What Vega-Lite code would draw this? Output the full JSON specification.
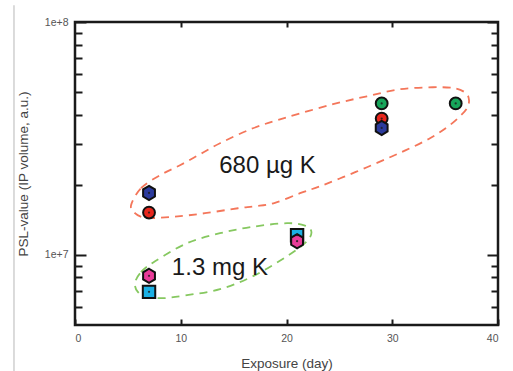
{
  "$schema": "https://vega.github.io/schema/vega-lite/v6.json",
  "autosize": "none",
  "width": 423,
  "height": 303,
  "padding": {"left": 75, "top": 22, "right": 15, "bottom": 46},
  "config": {
    "font": "Liberation Sans",
    "view": {"stroke": "#1a1a1a", "strokeWidth": 2.5}
  },
  "datasets": {
    "pts": [
      {"series": "cyan", "day": 7, "psl": 6940000},
      {"series": "cyan", "day": 21, "psl": 12150000},
      {"series": "red", "day": 7, "psl": 15200000},
      {"series": "red", "day": 29, "psl": 38500000},
      {"series": "green", "day": 29, "psl": 44700000},
      {"series": "green", "day": 36, "psl": 44700000},
      {"series": "pink", "day": 7, "psl": 8130000},
      {"series": "pink", "day": 21, "psl": 11450000},
      {"series": "blue", "day": 7, "psl": 18450000},
      {"series": "blue", "day": 29, "psl": 35100000}
    ],
    "ell": [
      {"g": "680", "i": 1, "x": 5.30, "y": 16340000},
      {"g": "680", "i": 2, "x": 6.24, "y": 19330000},
      {"g": "680", "i": 3, "x": 8.04, "y": 21980000},
      {"g": "680", "i": 4, "x": 9.93, "y": 24270000},
      {"g": "680", "i": 5, "x": 11.82, "y": 27050000},
      {"g": "680", "i": 6, "x": 13.71, "y": 30160000},
      {"g": "680", "i": 7, "x": 16.83, "y": 34980000},
      {"g": "680", "i": 8, "x": 20.05, "y": 38990000},
      {"g": "680", "i": 9, "x": 24.40, "y": 44360000},
      {"g": "680", "i": 10, "x": 27.61, "y": 47990000},
      {"g": "680", "i": 11, "x": 30.73, "y": 51430000},
      {"g": "680", "i": 12, "x": 33.85, "y": 52450000},
      {"g": "680", "i": 13, "x": 35.93, "y": 51940000},
      {"g": "680", "i": 14, "x": 36.97, "y": 49430000},
      {"g": "680", "i": 15, "x": 37.26, "y": 46130000},
      {"g": "680", "i": 16, "x": 37.07, "y": 42620000},
      {"g": "680", "i": 17, "x": 36.41, "y": 39380000},
      {"g": "680", "i": 18, "x": 35.18, "y": 35330000},
      {"g": "680", "i": 19, "x": 33.57, "y": 31690000},
      {"g": "680", "i": 20, "x": 31.68, "y": 28700000},
      {"g": "680", "i": 21, "x": 29.79, "y": 26260000},
      {"g": "680", "i": 22, "x": 27.61, "y": 23790000},
      {"g": "680", "i": 23, "x": 25.34, "y": 21560000},
      {"g": "680", "i": 24, "x": 23.17, "y": 19710000},
      {"g": "680", "i": 25, "x": 21.28, "y": 18400000},
      {"g": "680", "i": 26, "x": 18.91, "y": 16730000},
      {"g": "680", "i": 27, "x": 17.02, "y": 16180000},
      {"g": "680", "i": 28, "x": 15.41, "y": 15860000},
      {"g": "680", "i": 29, "x": 12.29, "y": 15100000},
      {"g": "680", "i": 30, "x": 9.46, "y": 14590000},
      {"g": "680", "i": 31, "x": 7.09, "y": 14380000},
      {"g": "680", "i": 32, "x": 6.34, "y": 14520000},
      {"g": "680", "i": 33, "x": 5.67, "y": 15100000},
      {"g": "1.3", "i": 1, "x": 5.67, "y": 7557000},
      {"g": "1.3", "i": 2, "x": 6.24, "y": 8430000},
      {"g": "1.3", "i": 3, "x": 7.57, "y": 9397000},
      {"g": "1.3", "i": 4, "x": 10.59, "y": 11220000},
      {"g": "1.3", "i": 5, "x": 13.71, "y": 12390000},
      {"g": "1.3", "i": 6, "x": 16.83, "y": 13210000},
      {"g": "1.3", "i": 7, "x": 20.05, "y": 13680000},
      {"g": "1.3", "i": 8, "x": 21.75, "y": 13350000},
      {"g": "1.3", "i": 9, "x": 22.36, "y": 12510000},
      {"g": "1.3", "i": 10, "x": 21.84, "y": 11340000},
      {"g": "1.3", "i": 11, "x": 20.05, "y": 9870000},
      {"g": "1.3", "i": 12, "x": 16.83, "y": 8102000},
      {"g": "1.3", "i": 13, "x": 13.71, "y": 7126000},
      {"g": "1.3", "i": 14, "x": 10.59, "y": 6714000},
      {"g": "1.3", "i": 15, "x": 8.32, "y": 6519000},
      {"g": "1.3", "i": 16, "x": 6.81, "y": 6616000},
      {"g": "1.3", "i": 17, "x": 5.96, "y": 6918000}
    ],
    "labels": [
      {"t": "680 µg K", "x": 18.2, "y": 22400000},
      {"t": "1.3 mg K", "x": 13.7, "y": 8180000}
    ],
    "edge": [
      {"x": -5.77, "y1": 118000000, "y2": 3170000}
    ]
  },
  "resolve": {
    "scale": {"x": "shared", "y": "shared"},
    "axis": {"x": "independent", "y": "independent"}
  },
  "layer": [
    {
      "data": {"name": "edge"},
      "mark": {"type": "rule", "color": "#cfcfcf", "strokeWidth": 1.5, "clip": false},
      "encoding": {
        "x": {"field": "x", "type": "quantitative", "scale": {"domain": [0, 40], "nice": false}, "axis": null},
        "y": {"field": "y1", "type": "quantitative", "scale": {"type": "log", "domain": [5000000, 100000000], "nice": false}, "axis": null},
        "y2": {"field": "y2"}
      }
    },
    {
      "data": {"name": "ell"},
      "mark": {"type": "line", "interpolate": "cardinal-closed", "strokeWidth": 1.8, "strokeDash": [8, 6]},
      "encoding": {
        "x": {
          "field": "x", "type": "quantitative",
          "scale": {"domain": [0, 40], "nice": false},
          "axis": {
            "orient": "bottom", "values": [0, 10, 20, 30, 40], "domain": false, "grid": false,
            "tickSize": -6, "tickWidth": 2, "tickColor": "#1a1a1a",
            "labelColor": "#555", "labelFontSize": 10.5, "labelPadding": 14,
            "title": "Exposure (day)", "titleFontSize": 13.5, "titleFontWeight": "normal", "titleColor": "#444", "titlePadding": 13
          }
        },
        "y": {
          "field": "y", "type": "quantitative",
          "scale": {"type": "log", "domain": [5000000, 100000000], "nice": false},
          "axis": {
            "orient": "left",
            "values": [10000000, 100000000],
            "labelExpr": "datum.value == 10000000 ? '1e+7' : '1e+8'",
            "domain": false, "grid": false,
            "tickSize": -11, "tickWidth": 2, "tickColor": "#1a1a1a",
            "labelColor": "#555", "labelFontSize": 10.5, "labelPadding": 18,
            "title": "PSL-value (IP volume, a.u.)", "titleFontSize": 13.5, "titleFontWeight": "normal", "titleColor": "#444", "titlePadding": 14
          }
        },
        "order": {"field": "i", "type": "quantitative"},
        "detail": {"field": "g"},
        "stroke": {"field": "g", "type": "nominal", "scale": {"domain": ["680", "1.3"], "range": ["#f4765a", "#86c860"]}, "legend": null}
      }
    },
    {
      "data": {"name": "pts"},
      "mark": {"type": "point", "filled": true, "stroke": "#111", "strokeWidth": 2, "opacity": 1, "size": 140},
      "encoding": {
        "x": {
          "field": "day", "type": "quantitative",
          "scale": {"domain": [0, 40], "nice": false},
          "axis": {"orient": "top", "values": [10, 20, 30], "labels": false, "domain": false, "grid": false, "tickSize": -5, "tickWidth": 2, "tickColor": "#1a1a1a", "title": null}
        },
        "y": {
          "field": "psl", "type": "quantitative",
          "scale": {"type": "log", "domain": [5000000, 100000000], "nice": false},
          "axis": {
            "orient": "right", "values": [10000000, 100000000],
            "labels": false, "domain": false, "grid": false,
            "tickSize": -11, "tickWidth": 2, "tickColor": "#1a1a1a", "title": null
          }
        },
        "fill": {"field": "series", "type": "nominal", "scale": {"domain": ["cyan", "red", "green", "pink", "blue"], "range": ["#1cb0e4", "#e8261c", "#17a55a", "#e93c99", "#2c3b9d"]}, "legend": null},
        "shape": {"field": "series", "type": "nominal", "scale": {"domain": ["cyan", "red", "green", "pink", "blue"], "range": ["M-1.05,-1.05L1.05,-1.05L1.05,1.05L-1.05,1.05Z", "circle", "circle", "M0,-1.2L1,-0.6L1,0.6L0,1.2L-1,0.6L-1,-0.6Z", "M0,-1.2L1,-0.6L1,0.6L0,1.2L-1,0.6L-1,-0.6Z"]}, "legend": null}
      }
    },
    {
      "data": {"name": "pts"},
      "mark": {"type": "circle", "size": 5, "color": "#1a1a1a", "opacity": 0.8},
      "encoding": {
        "x": {"field": "day", "type": "quantitative", "scale": {"domain": [0, 40], "nice": false}, "axis": null},
        "y": {
          "field": "psl", "type": "quantitative",
          "scale": {"type": "log", "domain": [5000000, 100000000], "nice": false},
          "axis": {
            "orient": "left",
            "values": [6000000, 7000000, 8000000, 9000000, 20000000, 30000000, 40000000, 50000000, 60000000, 70000000, 80000000, 90000000],
            "labels": false, "domain": false, "grid": false,
            "tickSize": -7, "tickWidth": 2, "tickColor": "#1a1a1a", "title": null
          }
        }
      }
    },
    {
      "data": {"name": "labels"},
      "mark": {"type": "text", "fontSize": 24, "align": "center", "baseline": "alphabetic", "color": "#1a1a1a"},
      "encoding": {
        "x": {"field": "x", "type": "quantitative", "scale": {"domain": [0, 40], "nice": false}, "axis": null},
        "y": {
          "field": "y", "type": "quantitative",
          "scale": {"type": "log", "domain": [5000000, 100000000], "nice": false},
          "axis": {
            "orient": "right",
            "values": [6000000, 7000000, 8000000, 9000000, 20000000, 30000000, 40000000, 50000000, 60000000, 70000000, 80000000, 90000000],
            "labels": false, "domain": false, "grid": false,
            "tickSize": -7, "tickWidth": 2, "tickColor": "#1a1a1a", "title": null
          }
        },
        "text": {"field": "t"}
      }
    }
  ]
}
